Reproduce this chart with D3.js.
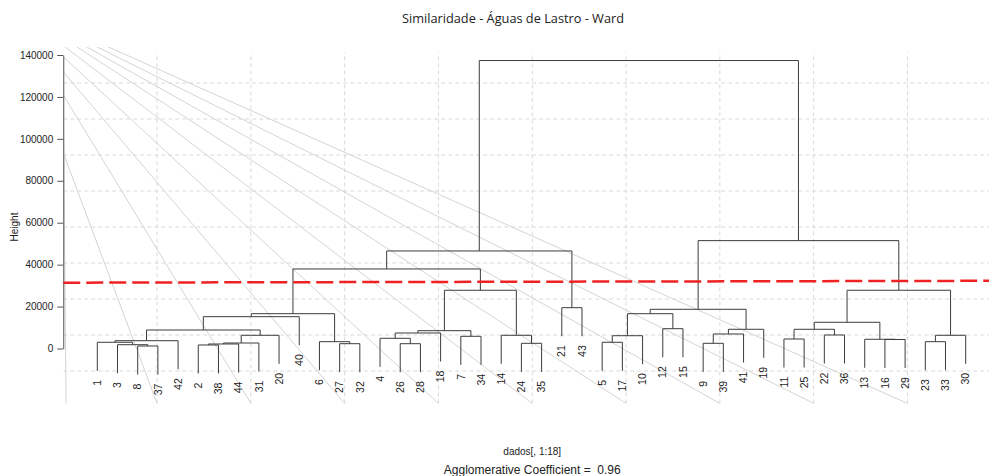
<!DOCTYPE html>
<html>
<head>
<meta charset="utf-8">
<script src="https://cdnjs.cloudflare.com/ajax/libs/d3/7.8.5/d3.min.js"></script>
<style>
body { margin: 0; background: #fff; }
svg { display: block; font-family: "Liberation Sans", Arial, sans-serif; }
</style>
</head>
<body>
<div id="graph-div"></div>
<script>
'use strict'

// leaf order as drawn, left to right
const leafOrder = [1,3,8,37,42,2,38,44,31,20,40,6,27,32,4,26,28,18,7,34,14,24,35,21,43,5,17,10,12,15,9,39,41,19,11,25,22,36,13,16,29,23,33,30]

// R style merge table: negative = observation, positive = earlier merge step (1 based)
const merges = [
	[-8, -37], [-2, -38], [-3, 1], [2, -44], [-27, -32], [-26, -28], [-24, -35], [-9, -39],
	[4, -31], [-1, 3], [-5, -17], [-6, 5], [-23, -33], [10, -42], [-16, -29], [-13, 15],
	[-11, -25], [-4, 6], [-7, -34], [13, -30], [11, -10], [9, -20], [-14, 7], [-22, -36],
	[8, -41], [18, -18], [26, 19], [14, 22], [25, -19], [17, 24], [-12, -15], [30, 16],
	[28, -40], [21, 31], [33, 12], [34, 29], [-21, -43], [27, 23], [32, 20], [35, 38],
	[40, 37], [36, 39], [41, 42]]
const mergeHeights = [
	1190, 1670, 1810, 2150, 2290, 2290, 2480, 2480,
	2620, 2960, 2960, 3250, 3250, 3720, 4300, 4400,
	4530, 4870, 5820, 6300, 6100, 6300, 6300, 6440,
	6920, 7400, 8500, 8830, 9160, 9160, 9450, 12500,
	15180, 16600, 16600, 18700, 19470, 27780, 27780, 37940,
	46530, 51450, 137360]

const yTicks = [0, 20000, 40000, 60000, 80000, 100000, 120000, 140000]

// dashed cut line, height at left and right edge of the plot region
const cutHeights = [31400, 32300]

// background 10 x 10 grid and the grey fan lines (grid units)
const gridSteps = [1, 2, 3, 4, 5, 6, 7, 8, 9]
const fanBottomU = [0.03, 1, 2, 3, 4, 5, 6, 7, 8, 9]
const fanLeftV = [8.6, 7.06, 8.67, 9.31, 9.73, 10.04, 10.25, 10.37, 10.47, 10.56]

const titleText = "Similaridade - Águas de Lastro - Ward"
const subText = "dados[, 1:18]"
const coefText = "Agglomerative Coefficient =  0.96"

function draw(){

	let width = 989, height = 476
	let region = {left: 63.25, right: 1001.25, top: 47, bottom: 407}

	let svg = d3.select("#graph-div").append("svg").attr("width", width).attr("height", height)

	svg.append("defs").append("clipPath").attr("id", "plotclip")
		.append("rect")
		.attr("x", region.left).attr("y", region.top)
		.attr("width", region.right - region.left).attr("height", region.bottom - region.top)

	let gu = d3.scaleLinear().domain([0, 10]).range([region.left, region.right])
	let gv = d3.scaleLinear().domain([0, 10]).range([region.bottom, region.top])

	let xScale = d3.scaleLinear().domain([1, leafOrder.length]).range([97.3, 965.7])
	let yScale = d3.scaleLinear().domain([0, 140000]).range([348.5, 55])

	let back = svg.append("g").attr("clip-path", "url(#plotclip)")

	// grid
	back.selectAll(".hgrid").data(gridSteps).enter().append("line")
		.attr("x1", gu(0)).attr("x2", gu(10))
		.attr("y1", d => gv(d)).attr("y2", d => gv(d))
		.attr("stroke", "#d9d9d9").attr("stroke-dasharray", "4,3")
	back.selectAll(".vgrid").data(gridSteps).enter().append("line")
		.attr("x1", d => gu(d)).attr("x2", d => gu(d))
		.attr("y1", gv(0.1)).attr("y2", gv(9.85))
		.attr("stroke", "#d9d9d9").attr("stroke-dasharray", "4,3")

	// fan lines
	back.selectAll(".fan").data(fanBottomU).enter().append("line")
		.attr("x1", gu(0)).attr("y1", (d, i) => gv(fanLeftV[i]))
		.attr("x2", d => gu(d)).attr("y2", gv(0.1))
		.attr("stroke", "#d4d4d4").attr("stroke-width", 1)

	// y axis
	let yAxis = svg.append("g").attr("transform", "translate(" + region.left + ",0)")
		.call(d3.axisLeft(yScale).tickValues(yTicks).tickSize(6).tickPadding(4).tickSizeOuter(0).tickFormat(d3.format("d")))
	yAxis.select(".domain").attr("stroke", "#555")
	yAxis.selectAll(".tick line").attr("stroke", "#555")
	yAxis.selectAll(".tick text").attr("font-size", 10).attr("fill", "#222")
		.attr("font-family", "Liberation Sans, Arial, sans-serif")

	svg.append("text")
		.attr("transform", "translate(18,227) rotate(-90)")
		.attr("text-anchor", "middle").attr("font-size", 10).attr("fill", "#222")
		.text("Height")

	// dendrogram positions
	let hang = 0.1 * (d3.max(mergeHeights) - d3.min(mergeHeights))
	let leafX = {}
	leafOrder.forEach(function(lab, i){ leafX[lab] = xScale(i + 1) })
	let nodeX = []
	let leafBottom = {}

	function childPos(c, h){
		if (c < 0){
			leafBottom[-c] = h - hang
			return [leafX[-c], h - hang]
		}
		return [nodeX[c - 1], mergeHeights[c - 1]]
	}

	let paths = []
	merges.forEach(function(m, i){
		let h = mergeHeights[i]
		let a = childPos(m[0], h)
		let b = childPos(m[1], h)
		nodeX[i] = (a[0] + b[0]) / 2
		paths.push("M" + a[0] + "," + yScale(a[1]) + "V" + yScale(h) + "H" + b[0] + "V" + yScale(b[1]))
	})

	svg.append("g").selectAll("path").data(paths).enter().append("path")
		.attr("d", d => d)
		.attr("fill", "none").attr("stroke", "#3c3c3c").attr("stroke-width", 1)

	svg.append("g").selectAll("text").data(leafOrder).enter().append("text")
		.attr("transform", d => "translate(" + leafX[d] + "," + (yScale(leafBottom[d]) + 9) + ") rotate(-90)")
		.attr("text-anchor", "end").attr("dy", "0.35em")
		.attr("font-size", 10.5).attr("fill", "#1a1a1a")
		.text(d => d)

	// cut line
	svg.append("line")
		.attr("x1", region.left).attr("y1", yScale(cutHeights[0]))
		.attr("x2", region.right).attr("y2", yScale(cutHeights[1]))
		.attr("stroke", "#ee2222").attr("stroke-width", 2.5).attr("stroke-dasharray", "17,6")

	// texts
	svg.append("text")
		.attr("x", 513).attr("y", 22.5).attr("text-anchor", "middle")
		.attr("font-family", "Open Sans, sans-serif").attr("font-size", 12.5).attr("fill", "#222")
		.attr("textLength", 222).attr("lengthAdjust", "spacingAndGlyphs")
		.text(titleText)

	let mid = (region.left + region.right) / 2
	svg.append("text")
		.attr("x", mid).attr("y", 455).attr("text-anchor", "middle")
		.attr("font-size", 10).attr("fill", "#222")
		.text(subText)
	svg.append("text")
		.attr("x", mid).attr("y", 474).attr("text-anchor", "middle")
		.attr("font-size", 12).attr("fill", "#222").style("white-space", "pre")
		.text(coefText)
}

draw()
</script>
</body>
</html>
